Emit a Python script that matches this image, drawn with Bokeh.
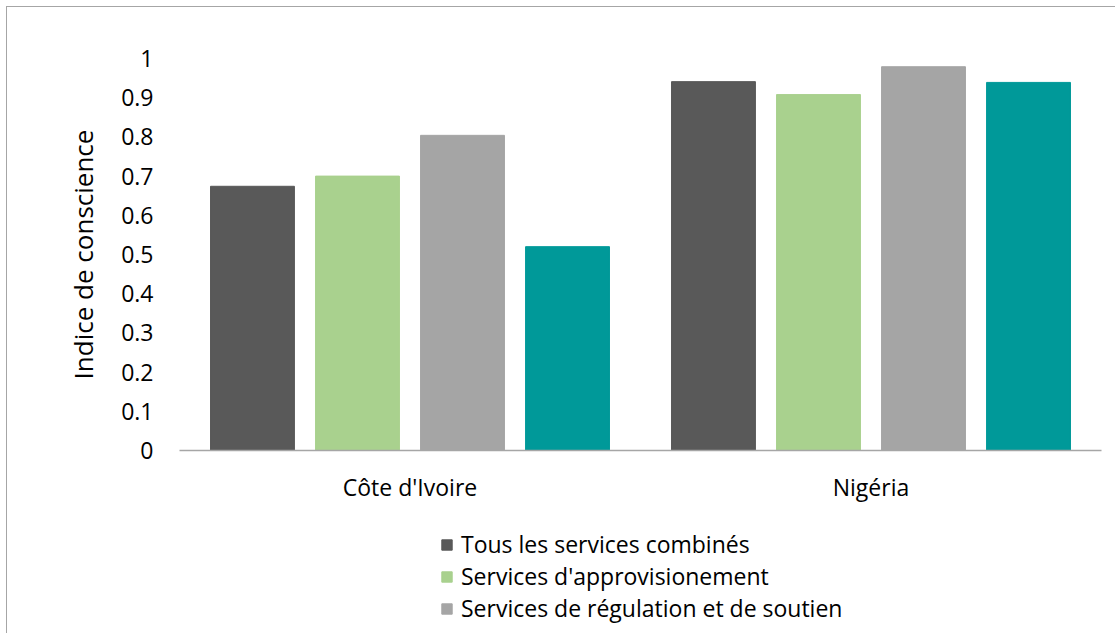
from bokeh.plotting import figure
from bokeh.layouts import column
from bokeh.models import ColumnDataSource, FactorRange, Range1d, Legend, LegendItem, FixedTicker
from bokeh.transform import dodge
from bokeh.embed import file_html
from bokeh.resources import INLINE

countries = ["Côte d'Ivoire", "Nigéria"]
series_names = ["Tous les services combinés", "Services d'approvisionement",
                "Services de régulation et de soutien", "Autres services"]
tous = [0.674, 0.941]
approvisionnement = [0.700, 0.908]
regulation = [0.804, 0.979]
quatrieme = [0.520, 0.939]
colors = ["#595959", "#A9D18E", "#A5A5A5", "#009999"]
y_ticks = [0, 0.1, 0.2, 0.3, 0.4, 0.5, 0.6, 0.7, 0.8, 0.9, 1.0]

FONT = "Open Sans"

source = ColumnDataSource(dict(country=countries, s0=tous, s1=approvisionnement,
                               s2=regulation, s3=quatrieme))
cols = ["s0", "s1", "s2", "s3"]
offsets = [-0.3417, -0.1139, 0.1139, 0.3417]

p = figure(x_range=FactorRange(*countries, range_padding=0), y_range=Range1d(0, 1),
           width=1108, height=503, output_backend="svg", toolbar_location=None,
           min_border_left=172, min_border_right=14, min_border_top=51, min_border_bottom=60)
p.outline_line_color = None
p.xgrid.grid_line_color = None
p.ygrid.grid_line_color = None

for i, col in enumerate(cols):
    p.vbar(x=dodge("country", offsets[i], range=p.x_range), top=col, width=0.182,
           source=source, fill_color=colors[i], line_color=colors[i])

p.yaxis.ticker = FixedTicker(ticks=y_ticks)
p.yaxis.major_label_overrides = {0: "0", 1: "1", 1.0: "1"}
p.yaxis.axis_line_color = None
p.yaxis.major_tick_line_color = None
p.yaxis.minor_tick_line_color = None
p.yaxis.major_label_standoff = 20
p.yaxis.major_label_text_font = FONT
p.yaxis.major_label_text_font_size = "23px"
p.yaxis.major_label_text_color = "#000000"
p.yaxis.axis_label = "Indice de conscience"
p.yaxis.axis_label_text_font = FONT
p.yaxis.axis_label_text_font_size = "26px"
p.yaxis.axis_label_text_font_style = "normal"
p.yaxis.axis_label_text_color = "#000000"
p.yaxis.axis_label_standoff = 17

p.xaxis.axis_line_color = "#a6a6a6"
p.xaxis.axis_line_width = 1.5
p.xaxis.major_tick_line_color = None
p.xaxis.minor_tick_line_color = None
p.xaxis.major_label_standoff = 14
p.xaxis.major_label_text_font = FONT
p.xaxis.major_label_text_font_size = "23px"
p.xaxis.major_label_text_color = "#000000"

# legend strip below the chart (bars fall outside its y range, so only the legend shows)
q = figure(width=1108, height=123, x_range=FactorRange(*countries, range_padding=0),
           y_range=Range1d(2, 3),
           x_axis_type=None, y_axis_type=None, output_backend="svg", toolbar_location=None,
           min_border_left=0, min_border_right=0, min_border_top=0, min_border_bottom=0)
q.outline_line_color = None
legend_renderers = []
for i in range(3):
    r = q.vbar(x=dodge("country", offsets[i], range=q.x_range), top=cols[i], width=0.182,
               source=source, fill_color=colors[i], line_color=colors[i])
    legend_renderers.append(r)

legend = Legend(items=[LegendItem(label=series_names[i], renderers=[legend_renderers[i]]) for i in range(3)],
                location=(261, 9), orientation="vertical",
                glyph_width=13, glyph_height=13, label_standoff=8,
                label_text_font=FONT, label_text_font_size="23px", label_text_color="#000000",
                label_height=31, spacing=0, padding=0, margin=0,
                border_line_color=None, background_fill_alpha=0)
q.add_layout(legend, "center")

layout = column(p, q, spacing=0)
layout.styles = {"margin-left": "6px", "margin-top": "6px",
                 "border-left": "1px solid #a6a6a6", "border-top": "1px solid #a6a6a6"}

open("out.html", "w").write(file_html(layout, INLINE))
